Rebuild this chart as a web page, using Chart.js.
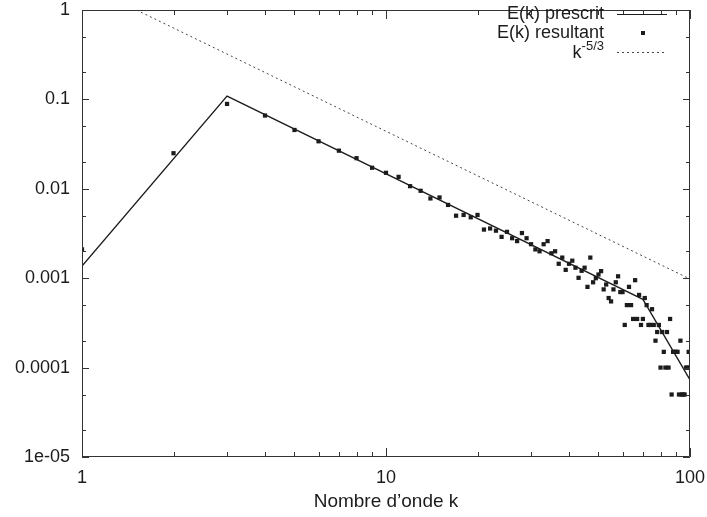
<!DOCTYPE html>
<html>
<head>
<meta charset="utf-8">
<script src="https://cdn.jsdelivr.net/npm/chart.js@4.4.0/dist/chart.umd.min.js"></script>
<style>
    html, body { margin: 0; padding: 0; background: #fff; }
    #wrap { width: 707px; height: 517px; }
</style>
</head>
<body>
<div id="wrap"><canvas id="chart"></canvas></div>
<script>
// spectre E(k) : prescrit, resultant, pente k^-5/3

const kPrescrit = [1, 3, 70, 100];
const ePrescrit = [0.00137, 0.109, 0.00058, 0.000073];

const kKolmo = [1.51, 100];
const eKolmo = [1.0, 0.00098];

const kResult = [
    1, 2, 3, 4, 5, 6, 7, 8, 9, 10,
    11, 12, 13, 14, 15, 16, 17, 18, 19, 20,
    21, 22, 23, 24, 25, 26, 27, 28, 29, 30,
    31, 32, 33, 34, 35, 36, 37, 38, 39, 40,
    41, 42, 43, 44, 45, 46, 47, 48, 49, 50,
    51, 52, 53, 54, 55, 56, 57, 58, 59, 60,
    61, 62, 63, 64, 65, 66, 67, 68, 69, 70,
    71, 72, 73, 74, 75, 76, 77, 78, 79, 80,
    81, 82, 83, 84, 85, 86, 87, 88, 89, 90,
    91, 92, 93, 94, 95, 96, 97, 98, 99, 100
];
const eResult = [
    0.0021, 0.025, 0.089, 0.066, 0.0455, 0.034, 0.0267, 0.022, 0.0172, 0.0151,
    0.0136, 0.0107, 0.0095, 0.0078, 0.0080, 0.0066, 0.0050, 0.0051, 0.0048, 0.0051,
    0.0035, 0.0036, 0.0034, 0.0029, 0.0033, 0.0028, 0.0026, 0.0032, 0.0028, 0.0024,
    0.0021, 0.0020, 0.0024, 0.0026, 0.0019, 0.0020, 0.00145, 0.0017, 0.00124, 0.00145,
    0.00157, 0.00131, 0.00101, 0.00121, 0.00131, 0.0008, 0.0017, 0.0009, 0.0010, 0.0011,
    0.0012, 0.00075, 0.00085, 0.0006, 0.00055, 0.00075, 0.0009, 0.00105, 0.0007, 0.0007,
    0.0003, 0.0005, 0.0008, 0.0005, 0.00035, 0.00095, 0.00035, 0.00065, 0.0003, 0.00035,
    0.0006, 0.0005, 0.0003, 0.0003, 0.00045, 0.0003, 0.0002, 0.00025, 0.0003, 0.0001,
    0.00025, 0.00015, 0.0001, 0.00025, 0.0001, 0.00035, 0.00005, 0.00015, 0.00015, 0.00015,
    0.00015, 0.00005, 0.0002, 0.00005, 0.00005, 0.00005, 0.0001, 0.0001, 0.00015, 0.0001
];

const seriesNames = ["E(k) prescrit", "E(k) resultant", "k"];
const kolmoExponent = "-5/3";

const xTicks = [1, 10, 100];
const xTickLabels = ["1", "10", "100"];
const yTicks = [1e-5, 1e-4, 1e-3, 1e-2, 1e-1, 1];
const yTickLabels = ["1e-05", "0.0001", "0.001", "0.01", "0.1", "1"];
const xMinorFactors = [2, 3, 4, 5, 6, 7, 8, 9];
const yMinorFactors = [2, 5];

const ink = "#1c1c1c";
const fontFamily = "'Liberation Sans', Arial, sans-serif";
const textFont = { family: fontFamily, size: 18 };

const toPoints = (xs, ys) => xs.map((x, i) => ({ x: x, y: ys[i] }));

// frame + inside tick marks on four sides (gnuplot style)
const framePlugin = {
    id: "frame",
    afterDatasetsDraw(chart) {
        const { ctx, chartArea: a, scales } = chart;
        const xs = scales.x, ys = scales.y;
        ctx.save();
        ctx.strokeStyle = "#333";
        ctx.lineWidth = 1;
        ctx.beginPath();
        ctx.rect(Math.round(a.left) + 0.5, Math.round(a.top) + 0.5,
                 Math.round(a.right - a.left) - 1, Math.round(a.bottom - a.top) - 1);

        const xTick = (v, len) => {
            const px = Math.round(xs.getPixelForValue(v)) + 0.5;
            ctx.moveTo(px, a.bottom); ctx.lineTo(px, a.bottom - len);
            ctx.moveTo(px, a.top); ctx.lineTo(px, a.top + len);
        };
        const yTick = (v, len) => {
            const py = Math.round(ys.getPixelForValue(v)) + 0.5;
            ctx.moveTo(a.left, py); ctx.lineTo(a.left + len, py);
            ctx.moveTo(a.right, py); ctx.lineTo(a.right - len, py);
        };
        xTicks.forEach(v => {
            xTick(v, 9);
            if (v < 100) xMinorFactors.forEach(f => xTick(v * f, 5));
        });
        yTicks.forEach(v => {
            yTick(v, 7);
            if (v < 1) yMinorFactors.forEach(f => yTick(v * f, 4));
        });
        ctx.stroke();
        ctx.restore();
    }
};

// legend, top right, text right-aligned with sample on the right
const keyPlugin = {
    id: "key",
    afterDraw(chart) {
        const ctx = chart.ctx;
        const textRight = 604;
        const sampleL = 617, sampleR = 667;
        const rows = [14, 33, 52];
        ctx.save();
        ctx.fillStyle = ink;
        ctx.font = `${textFont.size}px ${fontFamily}`;
        ctx.textBaseline = "middle";
        ctx.textAlign = "right";
        ctx.fillText(seriesNames[0], textRight, rows[0]);
        ctx.fillText(seriesNames[1], textRight, rows[1]);

        // k^-5/3
        ctx.font = `13px ${fontFamily}`;
        const supW = ctx.measureText(kolmoExponent).width;
        ctx.textAlign = "left";
        ctx.fillText(kolmoExponent, textRight - supW, rows[2] - 6);
        ctx.font = `${textFont.size}px ${fontFamily}`;
        ctx.textAlign = "right";
        ctx.fillText(seriesNames[2], textRight - supW, rows[2] + 1);

        // samples
        ctx.strokeStyle = ink;
        ctx.lineWidth = 1.2;
        ctx.beginPath();
        ctx.moveTo(sampleL, rows[0] + 0.5); ctx.lineTo(sampleR, rows[0] + 0.5);
        ctx.stroke();
        ctx.fillRect(641, rows[1] - 2, 4, 4);
        ctx.strokeStyle = "#444";
        ctx.lineWidth = 1;
        ctx.setLineDash([2, 3]);
        ctx.beginPath();
        ctx.moveTo(sampleL, rows[2] + 0.5); ctx.lineTo(sampleR, rows[2] + 0.5);
        ctx.stroke();
        ctx.restore();
    }
};

const ctx = document.getElementById("chart").getContext("2d");
new Chart(ctx, {
    type: "scatter",
    data: {
        datasets: [
            {
                label: seriesNames[1],
                data: toPoints(kResult, eResult),
                pointStyle: "rect",
                pointRadius: 3,
                pointBorderWidth: 0,
                borderWidth: 0,
                backgroundColor: ink,
                showLine: false,
                order: 0
            },
            {
                label: seriesNames[0],
                data: toPoints(kPrescrit, ePrescrit),
                showLine: true,
                borderColor: ink,
                borderWidth: 1.3,
                pointRadius: 0,
                order: 1
            },
            {
                label: seriesNames[2],
                data: toPoints(kKolmo, eKolmo),
                showLine: true,
                borderColor: "#444",
                borderWidth: 1,
                borderDash: [2, 3],
                pointRadius: 0,
                order: 2
            }
        ]
    },
    options: {
        responsive: true,
        maintainAspectRatio: false,
        animation: false,
        devicePixelRatio: 1,
        layout: { padding: { top: 10, right: 17, left: 0, bottom: 0 } },
        plugins: {
            legend: { display: false },
            tooltip: { enabled: false }
        },
        scales: {
            x: {
                type: "logarithmic",
                min: 1,
                max: 100,
                grid: { display: false, drawTicks: false },
                border: { display: false },
                afterBuildTicks: axis => { axis.ticks = xTicks.map(v => ({ value: v })); },
                afterFit: axis => {
                    axis.height = 60;
                    axis.paddingLeft = 0;
                    axis.paddingRight = 0;
                },
                ticks: {
                    color: ink,
                    font: textFont,
                    padding: 10,
                    maxRotation: 0,
                    autoSkip: false,
                    callback: (v, i) => xTickLabels[i]
                },
                title: {
                    display: true,
                    text: "Nombre d\u2019onde k",
                    color: ink,
                    font: { family: fontFamily, size: 19 },
                    padding: { top: 0, bottom: 4 }
                }
            },
            y: {
                type: "logarithmic",
                min: 1e-5,
                max: 1,
                grid: { display: false, drawTicks: false },
                border: { display: false },
                afterBuildTicks: axis => { axis.ticks = yTicks.map(v => ({ value: v })); },
                afterFit: axis => {
                    axis.width = 82;
                    axis.paddingTop = 0;
                    axis.paddingBottom = 0;
                },
                ticks: {
                    color: ink,
                    font: textFont,
                    padding: 12,
                    autoSkip: false,
                    callback: (v, i) => yTickLabels[i]
                }
            }
        }
    },
    plugins: [framePlugin, keyPlugin]
});
</script>
</body>
</html>
